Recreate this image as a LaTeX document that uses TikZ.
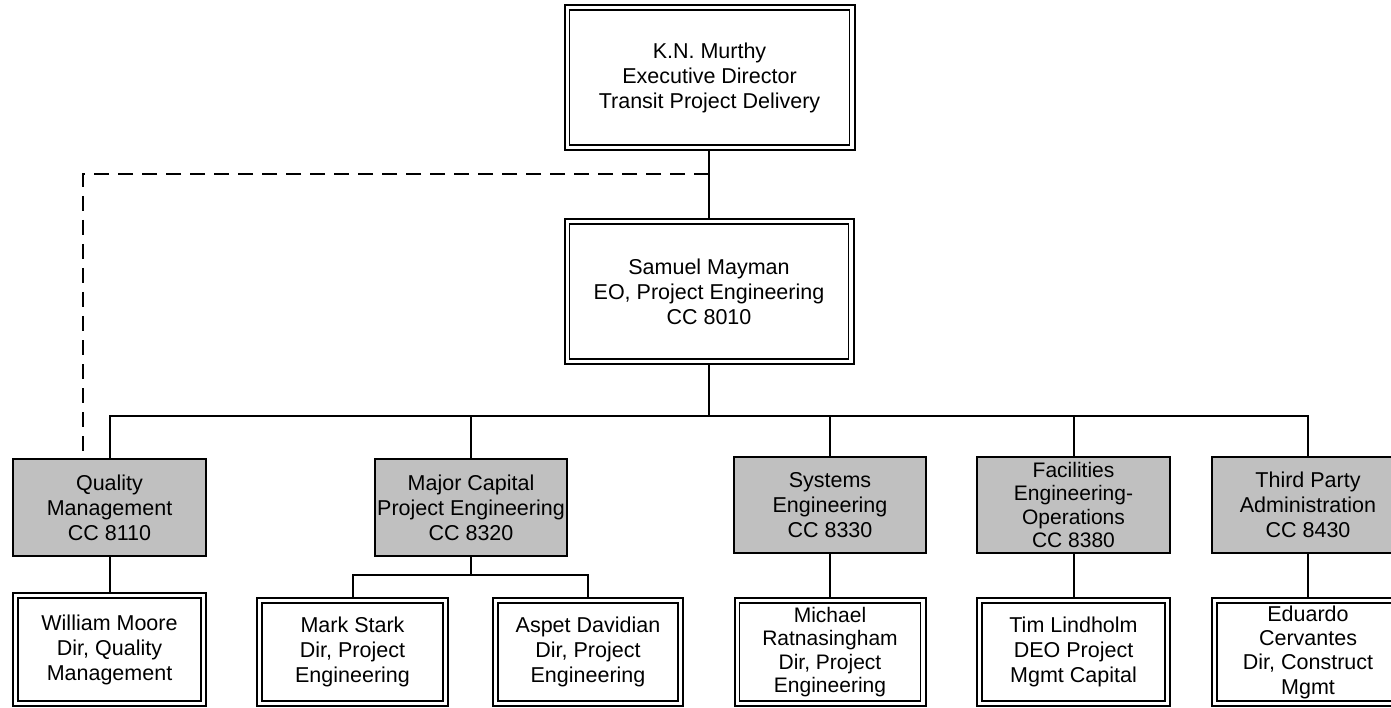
\documentclass[tikz,border=0pt]{standalone}
\usepackage{fontspec}
\setmainfont{Liberation Sans}
\definecolor{boxgrey}{HTML}{C0C0C0}
\tikzset{
  every node/.style={outer sep=0pt, inner sep=0pt, align=center,
    font=\fontsize{21.5}{25}\selectfont},
  dbox/.style={draw, line width=2pt, fill=white,
    path picture={\draw[line width=1.3pt]
      ([xshift=5pt,yshift=-5pt]path picture bounding box.north west) rectangle
      ([xshift=-5pt,yshift=5pt]path picture bounding box.south east);}},
  gbox/.style={draw, line width=2pt, fill=boxgrey},
  conn/.style={line width=2pt},
  dashconn/.style={line width=1.6pt, dash pattern=on 15pt off 9pt}
}
\begin{document}
\begin{tikzpicture}[x=1pt, y=-1pt]
\clip (0,0) rectangle (1391,708);
\fill[white] (0,0) rectangle (1391,708);

\node[dbox, minimum width=290pt, minimum height=145pt] (top) at (709.5,77.5)
  {K.N. Murthy\\Executive Director\\Transit Project Delivery};
\node[dbox, minimum width=289pt, minimum height=145pt] (mid) at (709,291.5)
  {Samuel Mayman\\EO, Project Engineering\\CC 8010};

\node[gbox, minimum width=193pt, minimum height=97pt] (qm) at (109.5,507.5)
  {Quality\\Management\\CC 8110};
\node[gbox, minimum width=192pt, minimum height=97pt] (mc) at (471,507.5)
  {Major Capital\\Project Engineering\\CC 8320};
\node[gbox, minimum width=192pt, minimum height=96pt] (se) at (830,505)
  {Systems\\Engineering\\CC 8330};
\node[gbox, minimum width=193pt, minimum height=96pt, font=\fontsize{21}{23.5}\selectfont] (fe) at (1073.5,505)
  {Facilities\\Engineering-\\Operations\\CC 8380};
\node[gbox, minimum width=192pt, minimum height=96pt] (tp) at (1308,505)
  {Third Party\\Administration\\CC 8430};

\node[dbox, minimum width=193pt, minimum height=113pt] (wm) at (109.5,649.5)
  {William Moore\\Dir, Quality\\Management};
\node[dbox, minimum width=191pt, minimum height=108pt] (ms) at (352.5,652)
  {Mark Stark\\Dir, Project\\Engineering};
\node[dbox, minimum width=190pt, minimum height=108pt] (ad) at (588,652)
  {Aspet Davidian\\Dir, Project\\Engineering};
\node[dbox, minimum width=191pt, minimum height=108pt, font=\fontsize{21}{23.3}\selectfont] (mr) at (830,652)
  {Michael\\Ratnasingham\\Dir, Project\\Engineering};
\node[dbox, minimum width=193pt, minimum height=108pt] (tl) at (1073.5,652)
  {Tim Lindholm\\DEO Project\\Mgmt Capital};
\node[dbox, minimum width=192pt, minimum height=108pt, font=\fontsize{21.5}{24.3}\selectfont] (ec) at (1308,652)
  {Eduardo\\Cervantes\\Dir, Construct\\Mgmt};

\coordinate (bus) at (709,416);
\coordinate (dj) at (709,174);
\coordinate (sub) at (471,575);

\draw[conn] (top.south -| mid.north) -- (mid.north);
\draw[conn] (mid.south) -- (bus);
\draw[conn] (qm.north) -- (qm.north |- bus) -- (tp.north |- bus) -- (tp.north);
\draw[conn] (mc.north) -- (mc.north |- bus);
\draw[conn] (se.north) -- (se.north |- bus);
\draw[conn] (fe.north) -- (fe.north |- bus);
\draw[dashconn] (dj) -| ([xshift=-26.5pt]qm.north);

\draw[conn] (qm.south) -- (wm.north);
\draw[conn] (mc.south) -- (sub);
\draw[conn] (ms.north) -- (ms.north |- sub) -- (ad.north |- sub) -- (ad.north);
\draw[conn] (se.south) -- (mr.north);
\draw[conn] (fe.south) -- (tl.north);
\draw[conn] (tp.south) -- (ec.north);
\end{tikzpicture}
\end{document}
